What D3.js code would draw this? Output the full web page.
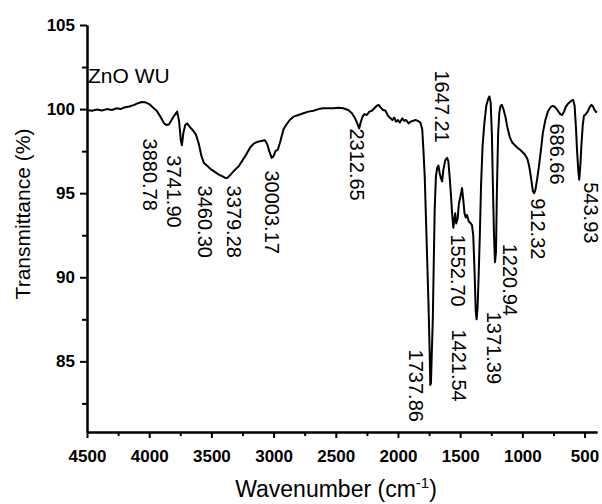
<!DOCTYPE html>
<html>
<head>
<meta charset="utf-8">
<script src="https://cdn.jsdelivr.net/npm/d3@7"></script>
<style>
    body { margin:0; background:#fff; }
    svg { display:block; font-family:'Liberation Sans', Arial, sans-serif; }
    .axis path, .axis line { stroke:#000; stroke-width:2px; }
    .axis text { font-size:17px; font-weight:bold; fill:#000; font-family:'Liberation Sans', Arial, sans-serif; }
</style>
</head>
<body>
<div id="canvas"></div>
<script>
// ---- DATA ----
var wavenumber = [4500,4460,4420,4380,4340,4300,4260,4230,4200,4160,4120,4090,4060,4030,4000,3970,3940,3910,3880,3860,
    3840,3820,3800,3775,3760,3745,3737,3725,3710,3695,3675,3650,3625,3600,3580,3560,3530,3500,3470,3440,
    3410,3385,3370,3340,3310,3280,3250,3220,3190,3160,3130,3100,3070,3050,3035,3015,3000,2985,2965,2945,
    2920,2900,2870,2840,2800,2760,2720,2680,2640,2600,2560,2520,2480,2440,2400,2370,2345,2325,2312,2300,
    2285,2270,2250,2230,2210,2190,2170,2155,2140,2120,2100,2080,2060,2045,2030,2015,2000,1985,1965,1950,
    1935,1915,1900,1880,1860,1840,1820,1805,1795,1785,1775,1765,1755,1745,1740,1735,1728,1720,1712,1705,
    1695,1685,1675,1665,1655,1645,1635,1620,1605,1595,1585,1575,1565,1555,1548,1540,1532,1520,1510,1498,
    1485,1475,1465,1455,1445,1430,1420,1405,1395,1385,1375,1368,1360,1352,1342,1332,1320,1305,1290,1275,
    1265,1255,1245,1237,1228,1220,1212,1205,1195,1185,1175,1165,1150,1135,1120,1100,1080,1060,1040,1020,
    1000,980,960,945,930,915,905,895,880,865,850,835,815,795,775,755,735,715,695,680,
    665,650,635,620,605,592,580,570,560,550,543,535,525,515,505,490,475,460,445,432,
    420,410,400];

var transmittance = [99.95,99.9,99.98,99.92,100.0,99.95,100.05,100.0,100.1,100.15,100.25,100.35,100.42,100.4,100.3,100.1,99.9,99.55,99.15,99.05,
    99.1,99.35,99.6,99.85,99.3,98.1,97.85,98.6,99.05,99.15,98.95,98.75,98.5,97.9,97.2,96.8,96.6,96.4,96.25,96.1,
    96.0,95.9,95.92,96.15,96.4,96.6,96.95,97.3,97.7,97.95,98.05,98.1,98.15,97.9,97.5,97.1,97.2,97.5,97.6,98.1,
    98.8,99.05,99.35,99.55,99.65,99.75,99.85,99.9,100.0,100.05,100.05,100.05,100.08,100.05,99.95,99.75,99.45,99.1,98.85,99.2,
    99.55,99.7,99.65,99.85,99.9,100.05,100.2,100.25,100.1,99.95,99.9,99.6,99.45,99.35,99.5,99.25,99.35,99.2,99.45,99.3,
    99.35,99.15,99.25,99.3,99.35,99.3,99.2,98.8,97.5,96.0,93.5,91.0,88.5,85.5,83.6,83.7,85.5,87.5,91.0,94.0,
    96.0,96.5,96.65,96.2,95.9,95.7,96.4,96.95,97.1,96.9,96.0,95.0,93.8,92.95,93.4,93.8,93.2,93.5,94.4,94.8,
    95.3,94.6,93.8,93.55,93.7,93.3,93.25,93.1,92.5,90.5,88.0,87.5,88.2,90.0,92.5,95.5,97.8,99.2,100.2,100.6,
    100.75,100.4,98.5,95.5,92.5,90.9,91.5,95.0,98.5,99.8,100.2,100.25,99.95,99.5,98.9,98.3,98.0,97.85,97.7,97.6,
    97.45,97.3,97.05,96.6,95.9,95.1,95.0,95.2,95.9,96.7,97.6,98.6,99.35,99.85,100.1,100.2,100.1,99.9,99.7,99.65,
    99.85,100.15,100.3,100.4,100.5,100.55,100.2,99.0,97.5,96.3,95.8,96.5,97.9,99.0,99.6,99.7,99.85,100.1,100.25,100.15,
    99.95,99.85,99.8];

// peak labels: text, anchor wavenumber, anchor transmittance (label top)
var peakLabels = ['3880.78','3741.90','3460.30','3379.28','30003.17','2312.65','1647.21','1552.70',
    '1421.54','1737.86','1371.39','1220.94','912.32','686.66','543.93'];
var peakWn = [4050,3856,3606,3373,3067,2383,1703,1574,1566,1915,1286,1154,933,775,505];
var peakT = [98.25,97.25,95.45,95.45,96.35,98.85,102.3,92.55,86.9,85.7,87.95,92.0,94.7,99.15,95.65];

var yMajor = [85,90,95,100,105];
var yMinor = [82.5,87.5,92.5,97.5,102.5];
var xMajor = [4500,4000,3500,3000,2500,2000,1500,1000,500];
var xMinor = [4250,3750,3250,2750,2250,1750,1250,750];

var series = wavenumber.map(function(w, i){ return {wn:w, t:transmittance[i]}; });


// ---- CONVENTIONS ----
var outerWidth = 602,
    outerHeight = 504;

var svg = d3.select('#canvas')
    .append('svg')
    .attr('width', outerWidth)
    .attr('height', outerHeight);


// ---- SCALES ----
var scaleX = d3.scaleLinear()
    .domain([4500, 400])
    .range([87, 597]);

var scaleY = d3.scaleLinear()
    .domain([80.8, 105])
    .range([432, 25]);


// ---- AXES ----
var axisX = d3.axisBottom(scaleX)
    .tickValues(xMajor)
    .tickFormat(d3.format('d'))
    .tickSize(6)
    .tickSizeOuter(0)
    .tickPadding(12);
var axisXMinor = d3.axisBottom(scaleX)
    .tickValues(xMinor)
    .tickFormat('')
    .tickSize(4)
    .tickSizeOuter(0);

var axisY = d3.axisLeft(scaleY)
    .tickValues(yMajor)
    .tickSize(7)
    .tickSizeOuter(0)
    .tickPadding(5);
var axisYMinor = d3.axisLeft(scaleY)
    .tickValues(yMinor)
    .tickFormat('')
    .tickSize(5)
    .tickSizeOuter(0);

svg.append('g').attr('class','axis axis-x-minor')
    .attr('transform','translate(0,432)')
    .call(axisXMinor);
svg.append('g').attr('class','axis axis-x')
    .attr('transform','translate(0,432)')
    .call(axisX);
svg.append('g').attr('class','axis axis-y-minor')
    .attr('transform','translate(87,0)')
    .call(axisYMinor);
svg.append('g').attr('class','axis axis-y')
    .attr('transform','translate(87,0)')
    .call(axisY);


// ---- GENERATORS ----
var lineGenerator = d3.line()
    .x(function(d){ return scaleX(d.wn); })
    .y(function(d){ return scaleY(d.t); });

svg.append('path')
    .datum(series)
    .attr('d', lineGenerator)
    .style('fill','none')
    .style('stroke','#000')
    .style('stroke-width','2px')
    .style('stroke-linejoin','round');


// ---- LABELS ----
svg.selectAll('.peak-label')
    .data(peakLabels)
    .enter()
    .append('text')
    .attr('class','peak-label')
    .attr('transform', function(d, i){
        return 'translate(' + scaleX(peakWn[i]) + ',' + scaleY(peakT[i]) + ') rotate(90)';
    })
    .style('font-size','20px')
    .style('fill','#000')
    .text(function(d){ return d; });

svg.append('text')
    .attr('x', 88)
    .attr('y', 83)
    .style('font-size','21px')
    .text('ZnO WU');

var titleX = svg.append('text')
    .attr('x', 336)
    .attr('y', 497)
    .attr('text-anchor','middle')
    .style('font-size','23px');
titleX.append('tspan').text('Wavenumber (cm');
titleX.append('tspan').attr('dy', -9).style('font-size','15px').text('-1');
titleX.append('tspan').attr('dy', 9).text(')');

svg.append('text')
    .attr('transform','translate(30,214) rotate(-90)')
    .attr('text-anchor','middle')
    .style('font-size','21px')
    .text('Transmittance (%)');
</script>
</body>
</html>
